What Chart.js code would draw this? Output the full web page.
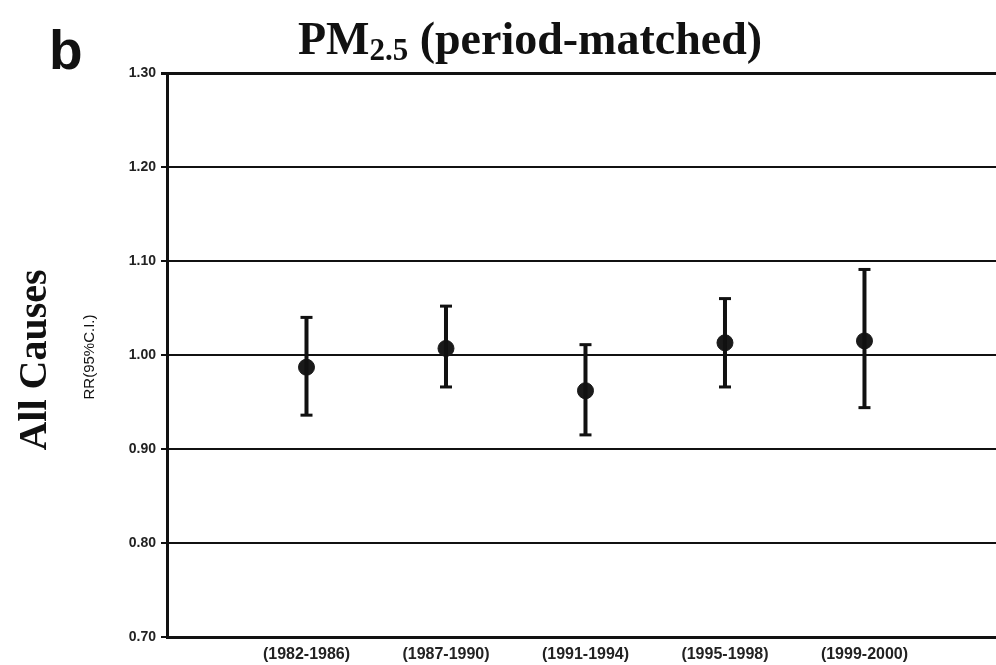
<!DOCTYPE html>
<html>
<head>
<meta charset="utf-8">
<script src="https://cdn.jsdelivr.net/npm/chart.js@4/dist/chart.umd.min.js"></script>
<style>
    html, body { margin: 0; padding: 0; background: #fff; overflow: hidden; }
    #wrap { position: relative; width: 996px; height: 665px; overflow: hidden; }
    #rrChart { position: absolute; left: 0; top: 0; }
    .lbl { position: absolute; white-space: nowrap; color: #111; line-height: 1; }
    #panel { left: 49px; top: 18px; font: bold 55px "Liberation Sans", Arial, sans-serif; }
    #title { left: 530px; top: 12px; transform: translateX(-50%); font: bold 46px "Liberation Serif", "Times New Roman", serif; }
    #title sub { font-size: 31px; vertical-align: baseline; position: relative; top: 6px; }
    #cause { left: 32px; top: 360px; transform: translate(-50%, -50%) rotate(-90deg); font: bold 40px "Liberation Serif", "Times New Roman", serif; }
    #rr { left: 88px; top: 357px; transform: translate(-50%, -50%) rotate(-90deg); font: 15px "Liberation Sans", Arial, sans-serif; }
</style>
</head>
<body>
<div id="wrap">
    <canvas id="rrChart" width="1006" height="665"></canvas>
    <div class="lbl" id="panel">b</div>
    <div class="lbl" id="title">PM<sub>2.5</sub> (period-matched)</div>
    <div class="lbl" id="cause">All Causes</div>
    <div class="lbl" id="rr">RR(95%C.I.)</div>
</div>
<script>
// 各時期的相對風險與 95% 信賴區間
const periods = ['(1982-1986)', '(1987-1990)', '(1991-1994)', '(1995-1998)', '(1999-2000)'];
const rrValues = [0.987, 1.007, 0.962, 1.013, 1.015];
const ciLower = [0.936, 0.966, 0.915, 0.966, 0.944];
const ciUpper = [1.040, 1.052, 1.011, 1.060, 1.091];
const yTicks = [0.70, 0.80, 0.90, 1.00, 1.10, 1.20, 1.30];

document.addEventListener('DOMContentLoaded', () => {
    const ctx = document.getElementById('rrChart').getContext('2d');

    // 誤差線：每個時期兩點，中間用 null 斷開
    const errorData = periods.flatMap((p, i) => [
        { x: i + 1, y: ciLower[i] },
        { x: i + 1, y: ciUpper[i] },
        { x: i + 1, y: null }
    ]);
    const pointData = periods.map((p, i) => ({ x: i + 1, y: rrValues[i] }));

    new Chart(ctx, {
        type: 'line',
        data: {
            datasets: [
                {
                    label: '95% C.I.',
                    data: errorData,
                    borderColor: '#111',
                    borderWidth: 4,
                    pointStyle: 'line',
                    pointRadius: 6,
                    pointBorderWidth: 3,
                    pointBorderColor: '#111',
                    spanGaps: false
                },
                {
                    label: 'RR',
                    data: pointData,
                    showLine: false,
                    pointStyle: 'circle',
                    pointRadius: 8,
                    pointBackgroundColor: '#1a1a1a',
                    pointBorderColor: '#1a1a1a',
                    pointBorderWidth: 1
                }
            ]
        },
        options: {
            responsive: false,
            animation: false,
            layout: { padding: { top: 73, left: 0, right: 0, bottom: 0 } },
            plugins: {
                legend: { display: false },
                title: { display: false },
                tooltip: { enabled: false }
            },
            scales: {
                x: {
                    type: 'linear',
                    min: 0,
                    max: 5.95,
                    afterBuildTicks: scale => {
                        scale.ticks = periods.map((p, i) => ({ value: i + 1 }));
                    },
                    afterFit: scale => { scale.height = 28; },
                    grid: { display: false, drawTicks: false },
                    border: { display: true, color: '#111', width: 3 },
                    ticks: {
                        autoSkip: false,
                        maxRotation: 0,
                        padding: 8,
                        color: '#222',
                        font: { family: 'Liberation Sans, Arial, sans-serif', size: 16, weight: 'bold' },
                        callback: (v, i) => periods[i]
                    }
                },
                y: {
                    min: 0.7,
                    max: 1.3,
                    afterBuildTicks: scale => {
                        scale.ticks = yTicks.map(v => ({ value: v }));
                    },
                    afterFit: scale => { scale.width = 167; },
                    grid: {
                        color: '#111',
                        lineWidth: c => (c.tick && (c.tick.value === 1.3)) ? 3 : 2,
                        tickLength: 6
                    },
                    border: { display: true, color: '#111', width: 3 },
                    ticks: {
                        padding: 5,
                        color: '#222',
                        font: { family: 'Liberation Sans, Arial, sans-serif', size: 14, weight: 'bold' },
                        callback: v => Number(v).toFixed(2)
                    }
                }
            }
        }
    });
});
</script>
</body>
</html>
